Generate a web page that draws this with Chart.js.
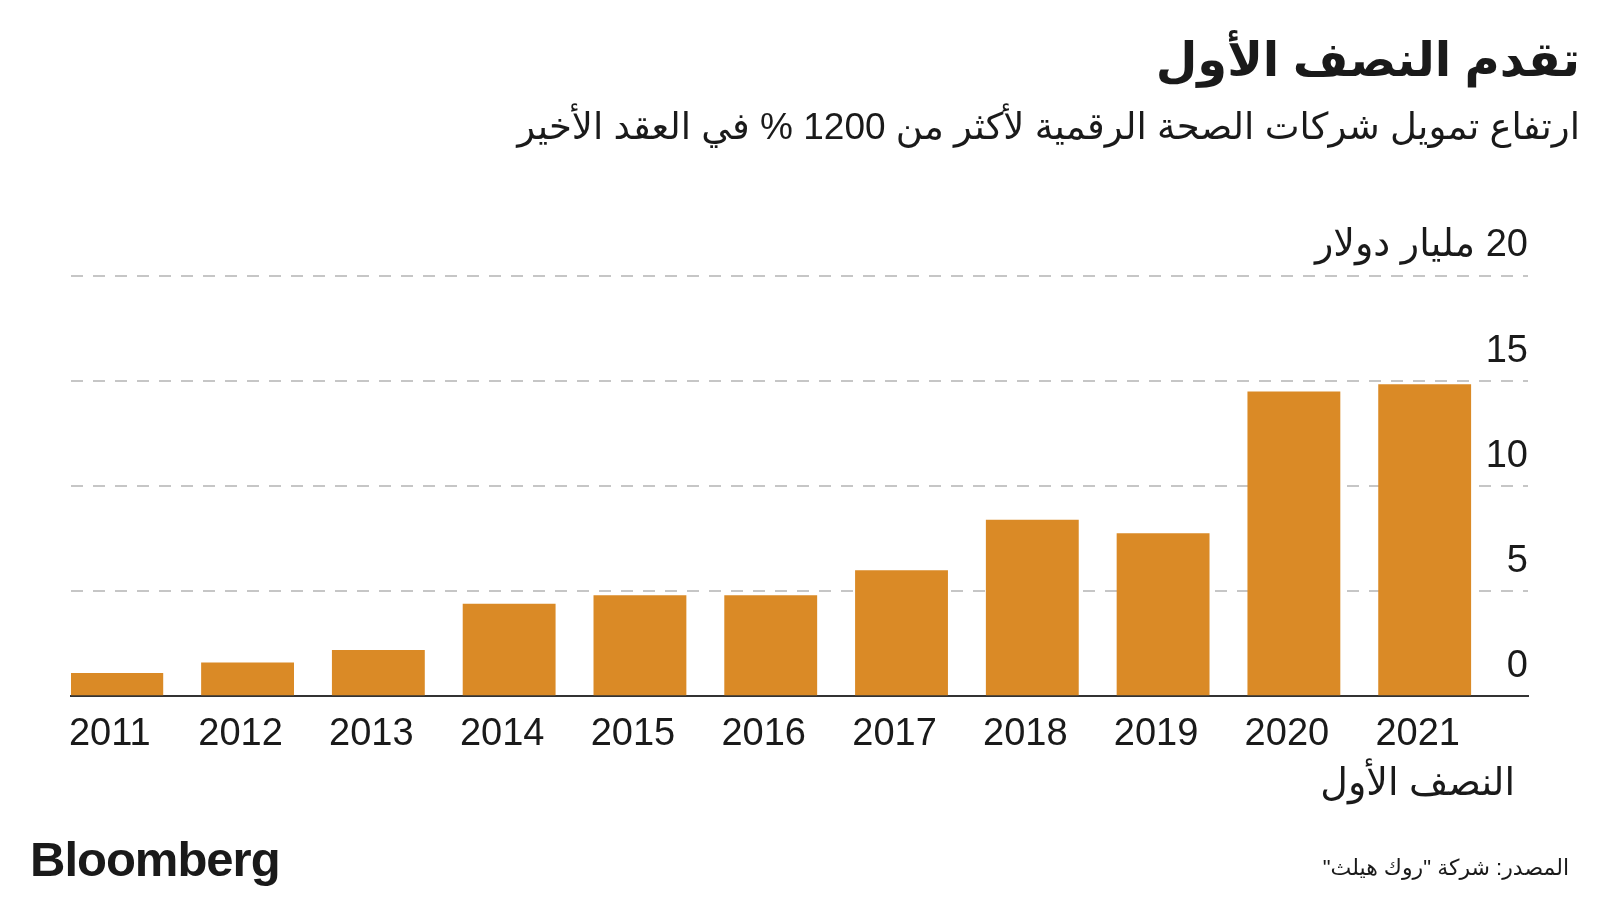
<!DOCTYPE html>
<html lang="ar">
<head>
<meta charset="utf-8">
<title>تقدم النصف الأول</title>
<script src="https://cdn.jsdelivr.net/npm/chart.js@4.4.0/dist/chart.umd.min.js"></script>
<style>
  body {
    margin: 0;
    width: 1600px;
    height: 900px;
    position: relative;
    overflow: hidden;
    background: #fff;
    color: #1a1a1a;
    font-family: 'Liberation Sans', 'DejaVu Sans', sans-serif;
  }
  #chartBox {
    position: absolute;
    left: 0;
    top: 0;
    width: 1600px;
    height: 900px;
  }
  .txt {
    position: absolute;
    margin: 0;
    direction: rtl;
    white-space: nowrap;
  }
  #title { right: 20px; top: 31px; font-size: 48px; font-weight: bold; }
  #subtitle { right: 20px; top: 105px; font-size: 37px; font-weight: normal; }
  #source { right: 31px; top: 855px; font-size: 22px; }
  #logo {
    left: 30px; top: 831px; font-size: 49px; font-weight: bold;
    letter-spacing: -1px; direction: ltr;
  }
</style>
</head>
<body>
<div id="chartBox"><canvas id="fundingChart"></canvas></div>
<h1 class="txt" id="title">تقدم النصف الأول</h1>
<h2 class="txt" id="subtitle">ارتفاع تمويل شركات الصحة الرقمية لأكثر من 1200 % في العقد الأخير</h2>
<div class="txt" id="logo">Bloomberg</div>
<div class="txt" id="source">المصدر: شركة "روك هيلث"</div>

<script>
// digital health funding, billions of dollars (2021 = first half only)
const years = [2011, 2012, 2013, 2014, 2015, 2016, 2017, 2018, 2019, 2020, 2021];
const funding = [1.1, 1.6, 2.2, 4.4, 4.8, 4.8, 6.0, 8.4, 7.75, 14.5, 14.85];
const yearLabels = ['2011', '2012', '2013', '2014', '2015', '2016', '2017', '2018', '2019', '2020', ['2021', 'النصف الأول']];
const yTicks = [0, 5, 10, 15, 20];
const unitLabel = 'مليار دولار';

const barColor = '#DA8A26';
const textColor = '#1a1a1a';
const fontFamily = "'Liberation Sans', 'DejaVu Sans', sans-serif";

const points = years.map((year, i) => ({ x: year, y: funding[i] }));

const ctx = document.getElementById('fundingChart').getContext('2d');

new Chart(ctx, {
  type: 'bar',
  data: {
    datasets: [{
      data: points,
      backgroundColor: barColor,
      borderWidth: 0,
      barPercentage: 0.71,
      categoryPercentage: 1
    }]
  },
  options: {
    responsive: true,
    maintainAspectRatio: false,
    animation: false,
    layout: {
      padding: { top: 276, left: 71, right: 72, bottom: 77 }
    },
    plugins: {
      legend: { display: false },
      tooltip: { enabled: false }
    },
    scales: {
      x: {
        type: 'linear',
        offset: false,
        min: 2010.65,
        max: 2021.79,
        grid: { display: false, drawTicks: false },
        border: { display: true, color: '#333', width: 2 },
        ticks: {
          stepSize: 1,
          includeBounds: false,
          autoSkip: false,
          maxRotation: 0,
          padding: 14,
          labelOffset: -7,
          color: textColor,
          font: { family: fontFamily, size: 38, lineHeight: 1.3 },
          callback: (value) => {
            const i = years.indexOf(value);
            return i >= 0 ? yearLabels[i] : '';
          }
        }
      },
      y: {
        position: 'right',
        min: yTicks[0],
        max: yTicks[yTicks.length - 1],
        afterBuildTicks: (scale) => {
          scale.ticks = yTicks.map(v => ({ value: v }));
        },
        grid: {
          drawTicks: false,
          lineWidth: 2,
          color: (c) => c.tick && c.tick.value === 0 ? 'transparent' : '#c6c6c6'
        },
        border: { display: false, dash: [12, 10] },
        ticks: {
          mirror: true,
          padding: 0,
          labelOffset: -30,
          color: textColor,
          font: { family: fontFamily, size: 38 },
          callback: (value) => value === yTicks[yTicks.length - 1]
            ? '\u202B' + value + ' ' + unitLabel + '\u202C'
            : String(value)
        }
      }
    }
  }
});
</script>
</body>
</html>
